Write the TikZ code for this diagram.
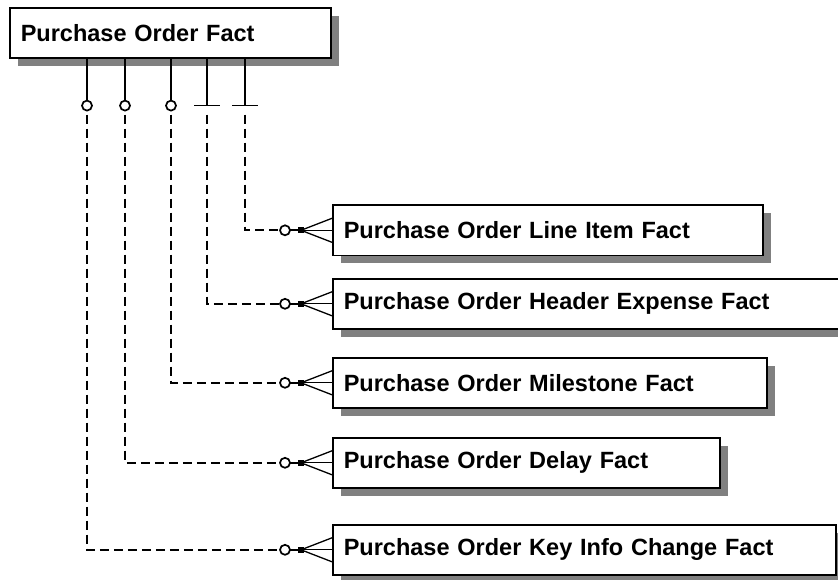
\documentclass[tikz,border=0pt]{standalone}
\usepackage{fontspec}
\setmainfont{Liberation Sans}
\usetikzlibrary{calc}
\usetikzlibrary{shadows}

\tikzset{
  fact/.style={draw, line width=1.6pt, fill=white, anchor=north west,
    inner xsep=11pt, inner ysep=0pt, minimum height=50pt, align=left,
    font=\bfseries\fontsize{23.5}{28}\selectfont,
    drop shadow={shadow xshift=8pt, shadow yshift=-8pt, fill=black!50, opacity=1}},
  rel/.style={line width=1.7pt},
  reldash/.style={line width=1.7pt, dash pattern=on 9pt off 5pt}
}

\begin{document}
\begin{tikzpicture}[x=1pt, y=-1pt]
\useasboundingbox (0,0) rectangle (838,580);
\node[fact, text width=299pt] (pof) at (9,7) {Purchase Order Fact};
\node[fact, text width=408pt] (poli) at (332,204.5) {Purchase Order Line Item Fact};
\node[fact, text width=520pt] (pohe) at (332,278) {Purchase Order Header Expense Fact};
\node[fact, text width=481pt] (poki) at (332,524) {Purchase Order Key Info Change Fact};
\node[fact, text width=412pt] (poms) at (332,357) {Purchase Order Milestone Fact};
\node[fact, text width=365pt] (pody) at (332,437) {Purchase Order Delay Fact};
\foreach\x/\t/\k in {78/poki/o, 116/pody/o, 162/poms/o, 198/pohe/b, 236/poli/b}{
  \coordinate (s) at ($(pof.south west)+(\x,0)$);
  \coordinate (m) at ($(s)+(0,47)$);
  \coordinate (e) at ($(\t.west)+(-52,0)$);
  \coordinate (f) at ($(\t.west)+(-31,0)$);
  \if o\k
    \draw[rel] (s) -- ($(m)+(0,-5)$);
    \draw[rel, fill=white] (m) circle (5);
  \else
    \draw[rel] (s) -- (m);
    \draw[rel] ($(m)+(-13,0)$) -- ($(m)+(13,0)$);
  \fi
  \draw[reldash] ($(m)+(0,9)$) |- (e);
  \draw[rel, fill=white] ($(\t.west)+(-47,0)$) circle (5);
  \draw[rel] ($(\t.west)+(-42,0)$) -- (f);
  \fill ($(f)+(-3,-3)$) rectangle ($(f)+(3,3)$);
  \draw[line width=1.3pt] (f) -- ($(\t.west)+(0,-12)$);
  \draw[line width=1.3pt] (f) -- (\t.west);
  \draw[line width=1.3pt] (f) -- ($(\t.west)+(0,12)$);
}
\end{tikzpicture}
\end{document}
